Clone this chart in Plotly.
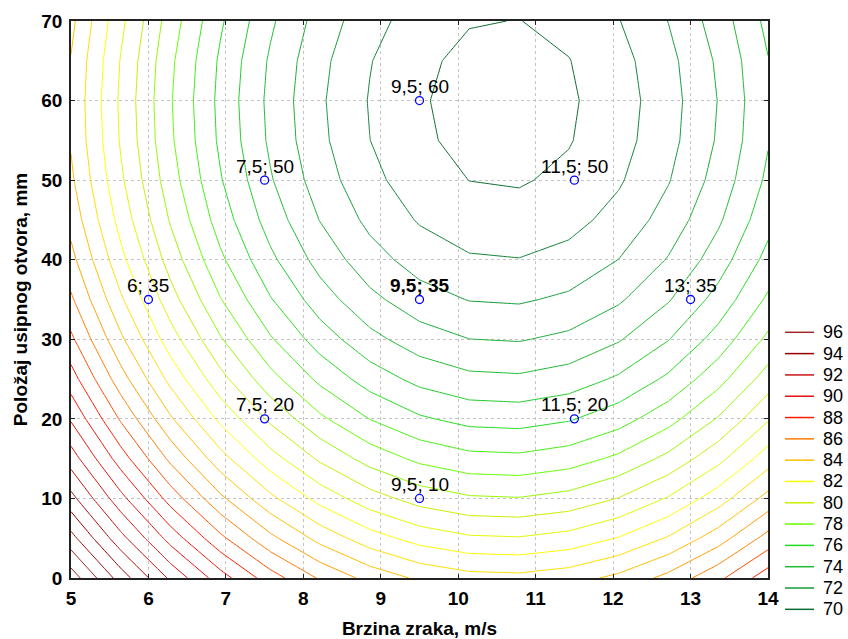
import plotly.graph_objects as go

# ---- data ----
x_speed = [5.0, 5.6429, 6.2857, 6.9286, 7.5714, 8.2143, 8.8571, 9.5,
           10.1429, 10.7857, 11.4286, 12.0714, 12.7143, 13.3571, 14.0]
y_pos = [0, 5, 10, 15, 20, 25, 30, 35, 40, 45, 50, 55, 60, 65, 70]

z_y00 = [97.56, 94.54, 91.80, 89.45, 87.47, 85.88, 84.66, 83.82, 83.36, 83.28, 83.58, 84.26, 85.31, 86.75, 88.57]
z_y05 = [95.35, 92.33, 89.60, 87.24, 85.26, 83.67, 82.45, 81.61, 81.15, 81.07, 81.37, 82.05, 83.10, 84.54, 86.36]
z_y10 = [93.33, 90.32, 87.58, 85.22, 83.25, 81.65, 80.43, 79.59, 79.13, 79.05, 79.35, 80.03, 81.09, 82.53, 84.34]
z_y15 = [91.51, 88.49, 85.76, 83.40, 81.43, 79.83, 78.61, 77.77, 77.31, 77.23, 77.53, 78.21, 79.27, 80.70, 82.52]
z_y20 = [89.88, 86.87, 84.13, 81.77, 79.80, 78.20, 76.98, 76.14, 75.68, 75.60, 75.90, 76.58, 77.64, 79.08, 80.89]
z_y25 = [88.45, 85.43, 82.70, 80.34, 78.36, 76.77, 75.55, 74.71, 74.25, 74.17, 74.47, 75.15, 76.20, 77.64, 79.46]
z_y30 = [87.21, 84.19, 81.46, 79.10, 77.12, 75.53, 74.31, 73.47, 73.01, 72.93, 73.23, 73.91, 74.96, 76.40, 78.22]
z_y35 = [86.16, 83.15, 80.41, 78.05, 76.08, 74.48, 73.26, 72.42, 71.96, 71.88, 72.18, 72.86, 73.92, 75.36, 77.17]
z_y40 = [85.31, 82.29, 79.56, 77.20, 75.23, 73.63, 72.41, 71.57, 71.11, 71.03, 71.33, 72.01, 73.07, 74.50, 76.32]
z_y45 = [84.65, 81.63, 78.90, 76.54, 74.57, 72.97, 71.75, 70.91, 70.45, 70.37, 70.67, 71.35, 72.41, 73.84, 75.66]
z_y50 = [84.18, 81.17, 78.43, 76.08, 74.10, 72.50, 71.28, 70.45, 69.99, 69.91, 70.21, 70.88, 71.94, 73.38, 75.20]
z_y55 = [83.91, 80.90, 78.16, 75.81, 73.83, 72.23, 71.01, 70.17, 69.72, 69.64, 69.94, 70.61, 71.67, 73.11, 74.93]
z_y60 = [83.84, 80.82, 78.08, 75.73, 73.75, 72.15, 70.94, 70.10, 69.64, 69.56, 69.86, 70.53, 71.59, 73.03, 74.85]
z_y65 = [83.95, 80.94, 78.20, 75.84, 73.87, 72.27, 71.05, 70.21, 69.75, 69.67, 69.97, 70.65, 71.71, 73.15, 74.96]
z_y70 = [84.26, 81.25, 78.51, 76.15, 74.18, 72.58, 71.36, 70.52, 70.06, 69.98, 70.28, 70.96, 72.02, 73.46, 75.27]

z_grid = [z_y00, z_y05, z_y10, z_y15, z_y20, z_y25, z_y30, z_y35,
          z_y40, z_y45, z_y50, z_y55, z_y60, z_y65, z_y70]

pt_x = [9.5, 7.5, 11.5, 6, 9.5, 13, 7.5, 11.5, 9.5]
pt_y = [60, 50, 50, 35, 35, 35, 20, 20, 10]
pt_labels = ["9,5; 60", "7,5; 50", "11,5; 50", "6; 35", "<b>9,5; 35</b>",
             "13; 35", "7,5; 20", "11,5; 20", "9,5; 10"]

legend_levels = [96, 94, 92, 90, 88, 86, 84, 82, 80, 78, 76, 74, 72, 70]
legend_colors = ["#a02828", "#960000", "#c81414", "#e61414", "#ff1a00", "#ff7f00",
                 "#ffbf00", "#ffff00", "#c8f000", "#66ff00", "#22dd22", "#22bb33",
                 "#169c3c", "#0f6e32"]

x_ticks = [5, 6, 7, 8, 9, 10, 11, 12, 13, 14]
y_ticks = [0, 10, 20, 30, 40, 50, 60, 70]

# ---- figure ----
W, H = 848, 639
L, R, T, B = 71, 80, 21, 61
pw, ph = W - L - R, H - T - B

lev_start, lev_end = 70, 97
span = lev_end - lev_start
cs = sorted([[(lv - lev_start) / span, c] for lv, c in zip(legend_levels, legend_colors)])
cs.append([1.0, legend_colors[0]])

font_family = "Arial, Liberation Sans, sans-serif"

fig = go.Figure()
fig.add_trace(go.Contour(
    x=x_speed, y=y_pos, z=z_grid,
    contours=dict(start=lev_start, end=lev_end, size=1, coloring="lines"),
    line=dict(width=1, smoothing=0),
    colorscale=cs, showscale=False, hoverinfo="skip",
))
fig.add_trace(go.Scatter(
    x=pt_x, y=pt_y, mode="markers",
    marker=dict(symbol="circle-open", size=8, color="#0000ff", line=dict(width=1.3)),
    showlegend=False, hoverinfo="skip", cliponaxis=False,
))

shapes = []
annotations = []
for px_, py_, lab in zip(pt_x, pt_y, pt_labels):
    annotations.append(dict(x=px_, y=py_, xref="x", yref="y", text=lab, showarrow=False,
                            xanchor="center", yanchor="middle", yshift=14,
                            font=dict(family=font_family, size=19, color="black")))

x0p = (785 - L) / pw
x1p = (814 - L) / pw
xt = (821 - L) / pw
for k, (lv, c) in enumerate(zip(legend_levels, legend_colors)):
    py = 332.3 + k * 21.31
    yp = (H - B - py) / ph
    shapes.append(dict(type="line", xref="paper", yref="paper", x0=x0p, x1=x1p,
                       y0=yp, y1=yp, line=dict(color=c, width=1.5)))
    annotations.append(dict(xref="paper", yref="paper", x=xt, y=yp, text=str(lv),
                            showarrow=False, xanchor="left", yanchor="middle",
                            font=dict(family=font_family, size=18, color="black")))

axis_common = dict(
    showgrid=True, gridcolor="#c4c4c4", griddash="dot", gridwidth=1,
    showline=True, linecolor="#222222", linewidth=1.5, mirror="ticks",
    ticks="inside", ticklen=4, tickcolor="#222222", tickwidth=1,
    tickfont=dict(family=font_family, size=19, color="black", weight="bold"),
    zeroline=False, automargin=False,
)

fig.update_layout(
    width=W, height=H,
    margin=dict(l=L, r=R, t=T, b=B, pad=0),
    paper_bgcolor="white", plot_bgcolor="white",
    showlegend=False,
    xaxis=dict(range=[5, 14], tickvals=x_ticks, ticklabelstandoff=2, **axis_common,
               title=dict(text="Brzina zraka, m/s", standoff=14,
                          font=dict(family=font_family, size=19, color="black", weight="bold"))),
    yaxis=dict(range=[0, 70], tickvals=y_ticks, ticklabelstandoff=3, **axis_common,
               title=dict(text="Položaj usipnog otvora, mm", standoff=9,
                          font=dict(family=font_family, size=19, color="black", weight="bold"))),
    shapes=shapes, annotations=annotations,
)

fig.write_html("out.html", config={"displayModeBar": False},
               post_script="document.body.style.margin='0';")
